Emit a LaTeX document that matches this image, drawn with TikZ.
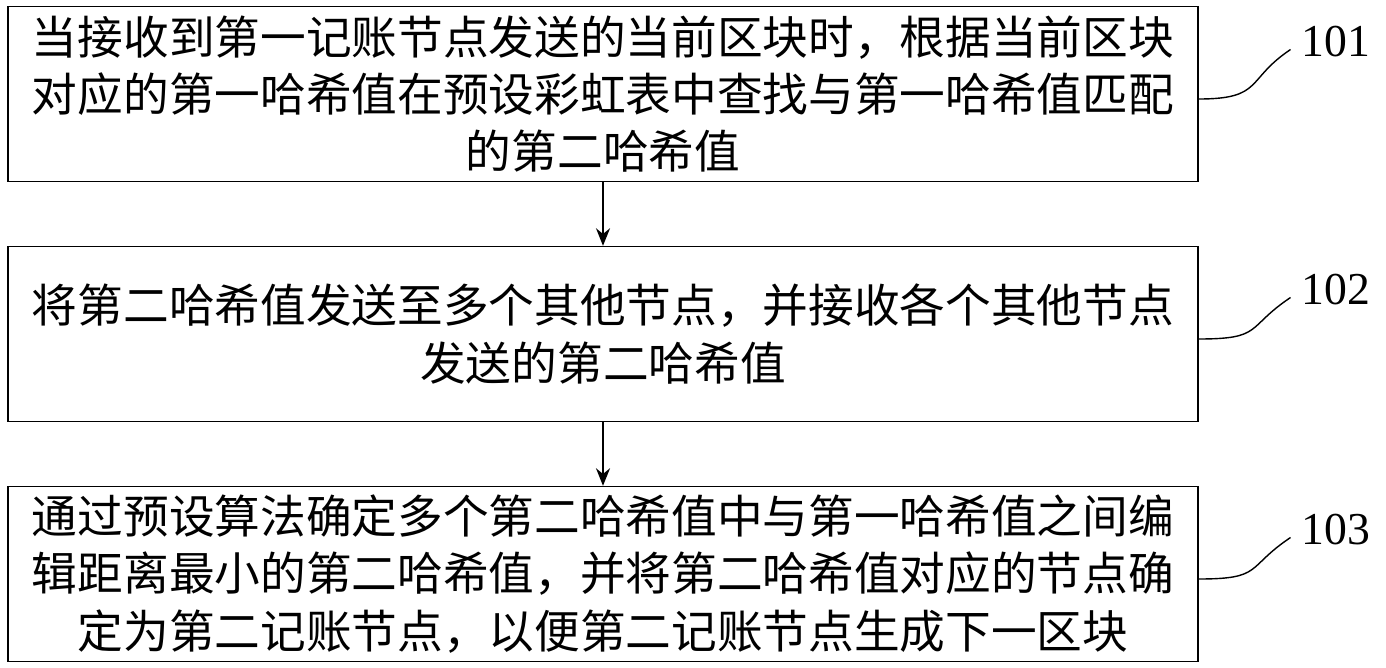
\documentclass[tikz,border=0pt]{standalone}
\usepackage{fontspec}
\setmainfont{Liberation Serif}
\newfontfamily\cjk{Noto Sans CJK SC}
\usetikzlibrary{positioning,arrows.meta}
\begin{document}
\begin{tikzpicture}[x=0.02cm,y=-0.02cm,
        stepbox/.style={draw, thick, minimum width=23.8cm, minimum height=3.5cm, align=center,
            font=\cjk\fontsize{26}{32.5}\selectfont, inner sep=0pt},
        flow/.style={-{Stealth[length=10pt,width=8pt]}, thick},
        tag/.style={font=\fontsize{26}{30}\selectfont},
        lead/.style={thick}
    ]
    \useasboundingbox (0,0) rectangle (1386,667);

    \node[stepbox] (s1) at (603,94) {当接收到第一记账节点发送的当前区块时，根据当前区块\\对应的第一哈希值在预设彩虹表中查找与第一哈希值匹配\\的第二哈希值};
    \node[stepbox] (s2) at (603,334) {将第二哈希值发送至多个其他节点，并接收各个其他节点\\发送的第二哈希值};
    \node[stepbox] (s3) at (603,574) {通过预设算法确定多个第二哈希值中与第一哈希值之间编\\辑距离最小的第二哈希值，并将第二哈希值对应的节点确\\定为第二记账节点，以便第二记账节点生成下一区块};

    \draw[flow] (s1) -- (s2);
    \draw[flow] (s2) -- (s3);

    % step numbers
    \node[tag] (t1) at (1336,42) {101};
    \node[tag] (t2) at (1336,290) {102};
    \node[tag] (t3) at (1336,530) {103};
    \foreach \s/\t in {s1/t1,s2/t2,s3/t3}
        \draw[lead] ([yshift=-0.1cm]\s.east) .. controls +(1.3cm,0) and +(-0.9cm,-0.6cm) .. ([xshift=-0.1cm,yshift=-0.15cm]\t.west);
\end{tikzpicture}
\end{document}
